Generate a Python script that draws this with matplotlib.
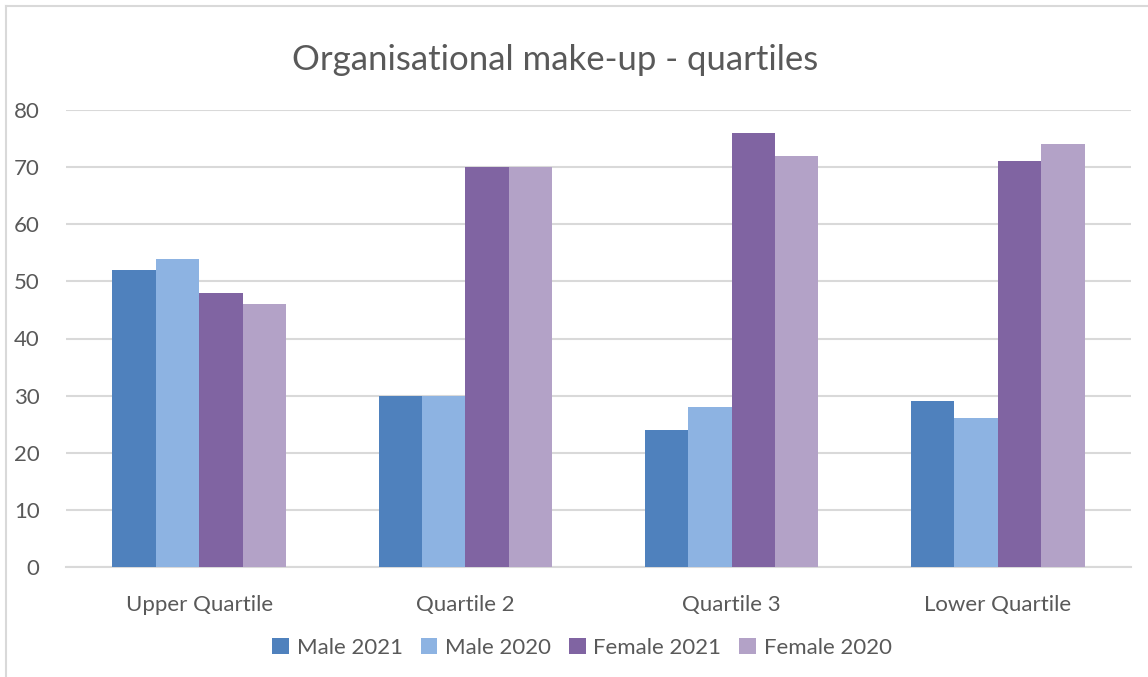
import numpy as np
import matplotlib
matplotlib.use('Agg')
import matplotlib.pyplot as plt
from matplotlib.lines import Line2D

categories = ['Upper Quartile', 'Quartile 2', 'Quartile 3', 'Lower Quartile']
series_names = ['Male 2021', 'Male 2020', 'Female 2021', 'Female 2020']
male_2021 = [52, 30, 24, 29]
male_2020 = [54, 30, 28, 26]
female_2021 = [48, 70, 76, 71]
female_2020 = [46, 70, 72, 74]
colors = ['#4F81BD', '#8DB3E2', '#8064A2', '#B3A2C7']

plt.rcParams['font.family'] = ['Lato', 'DejaVu Sans']
txt = '#595959'

fig = plt.figure(figsize=(11.48, 6.77), dpi=100)
ax = fig.add_axes([66/1148, 1-567/677, (1131-66)/1148, (567-110)/677])

x = np.arange(len(categories))
w = 0.163
data = [male_2021, male_2020, female_2021, female_2020]
for i, vals in enumerate(data):
    ax.bar(x + (i - 1.5)*w, vals, w, color=colors[i], label=series_names[i], zorder=3)

ax.set_xlim(-0.5, 3.5)
ax.set_ylim(0, 80)
ax.set_yticks(range(0, 81, 10))
ax.yaxis.grid(True, color='#D9D9D9', linewidth=1.5, zorder=0)
ax.set_xticks(x)
ax.set_xticklabels(categories)
ax.tick_params(axis='both', length=0, colors=txt, labelsize=16)
ax.tick_params(axis='x', pad=20)
ax.tick_params(axis='y', pad=19)
for s in ['top', 'right', 'left']:
    ax.spines[s].set_visible(False)
ax.spines['bottom'].set_color('#D9D9D9')
ax.spines['bottom'].set_linewidth(1.5)

fig.text(555/1148, 1-60/677, 'Organisational make-up - quartiles', ha='center', va='center',
         fontsize=25, color=txt)

leg = fig.legend(loc='center', bbox_to_anchor=(582/1148, 1-648/677), ncol=4, frameon=False,
                 fontsize=16, handlelength=0.75, handleheight=0.75, handletextpad=0.35,
                 columnspacing=0.8)
for t in leg.get_texts():
    t.set_color(txt)

# chart border (left and top visible)
fig.add_artist(Line2D([6/1148, 6/1148], [0, 1-6/677], color='#D9D9D9', linewidth=1.5))
fig.add_artist(Line2D([6/1148, 1], [1-6/677, 1-6/677], color='#D9D9D9', linewidth=1.5))

fig.savefig('out.png', dpi=100, facecolor='white')
